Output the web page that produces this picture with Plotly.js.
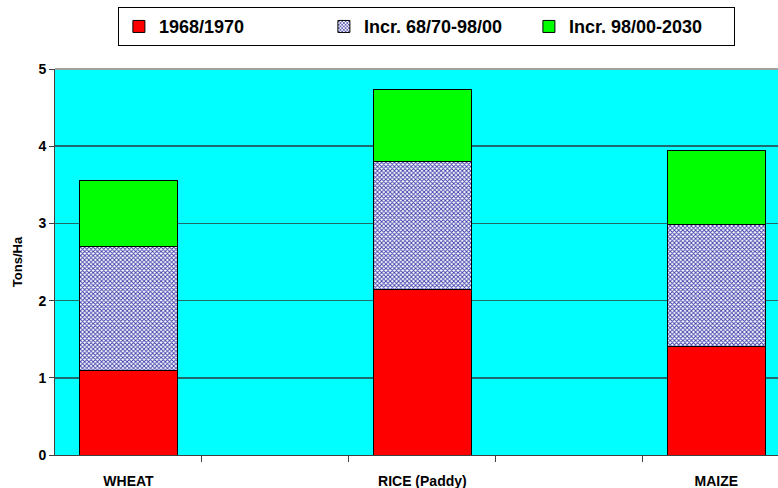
<!DOCTYPE html>
<html>
<head>
<meta charset="utf-8">
<script src="https://cdn.plot.ly/plotly-3.0.1.min.js"></script>
<style>html,body{margin:0;padding:0;background:#fff;}#chart{width:778px;height:488px;}</style>
</head>
<body>
<div id="chart"></div>
<script>
const categories = ["WHEAT", "RICE (Paddy)", "MAIZE"];
const categorySlots = [0, 2, 4];
const base6870 = [1.10, 2.15, 1.40];
const incr6870to9800 = [1.60, 1.65, 1.58];
const incr9800to2030 = [0.86, 0.93, 0.97];
const seriesNames = ["1968/1970", "Incr. 68/70-98/00", "Incr. 98/00-2030"];
const yTicks = [0, 1, 2, 3, 4, 5];
const dividerTicks = [0.5, 1.5, 2.5, 3.5];

const FONT = "Arial, 'Liberation Sans', sans-serif";
const edge = {color: "#000000", width: 1};

const traces = [
  {type: "bar", name: seriesNames[0], x: categorySlots, y: base6870,
   width: 0.667, marker: {color: "#ff0000", line: edge}, hoverinfo: "y"},
  {type: "bar", name: seriesNames[1], x: categorySlots, y: incr6870to9800,
   width: 0.667, marker: {color: "#ffffff", line: edge,
     pattern: {shape: "x", fgcolor: "#3c3caa", bgcolor: "#ffffff", size: 3, solidity: 0.5}}, hoverinfo: "y"},
  {type: "bar", name: seriesNames[2], x: categorySlots, y: incr9800to2030,
   width: 0.667, marker: {color: "#00ff00", line: edge}, hoverinfo: "y"}
];

const layout = {
  width: 778, height: 488,
  margin: {l: 55, r: 0, t: 69, b: 33, pad: 0},
  barmode: "stack",
  paper_bgcolor: "#ffffff",
  plot_bgcolor: "#00ffff",
  font: {family: FONT, size: 12, color: "#000000"},
  showlegend: true,
  legend: {
    orientation: "h", x: 0.087, y: 1.16, xanchor: "left", yanchor: "top",
    bgcolor: "#ffffff", bordercolor: "#000000", borderwidth: 1,
    font: {family: FONT, size: 18, color: "#000000", weight: "bold"},
    traceorder: "normal", entrywidth: 160
  },
  xaxis: {
    range: [-0.5, 4.42], tickvals: categorySlots, ticktext: categories,
    ticks: "", showgrid: false, zeroline: false,
    showline: true, linecolor: "#404040", linewidth: 1,
    tickfont: {family: FONT, size: 14, weight: "bold"},
    ticklabelstandoff: 13,
    minor: {tickvals: dividerTicks, ticks: "outside", ticklen: 6, tickcolor: "#404040", showgrid: false},
    fixedrange: true
  },
  yaxis: {
    range: [0, 5], tickvals: yTicks, ticks: "outside", ticklen: 5, tickcolor: "#404040",
    showgrid: true, gridcolor: "#1f6a6a", gridwidth: 1.5, zeroline: false,
    showline: true, linecolor: "#404040", linewidth: 1,
    tickfont: {family: FONT, size: 14, weight: "bold"},
    title: {text: "Tons/Ha", font: {family: FONT, size: 13, weight: "bold"}, standoff: 12},
    fixedrange: true
  },
  shapes: [
    {type: "line", xref: "paper", yref: "paper", x0: 0, x1: 1, y0: 1, y1: 1,
     line: {color: "#a0a0a0", width: 2}}
  ]
};

Plotly.newPlot("chart", traces, layout, {displayModeBar: false, staticPlot: true});
</script>
</body>
</html>
